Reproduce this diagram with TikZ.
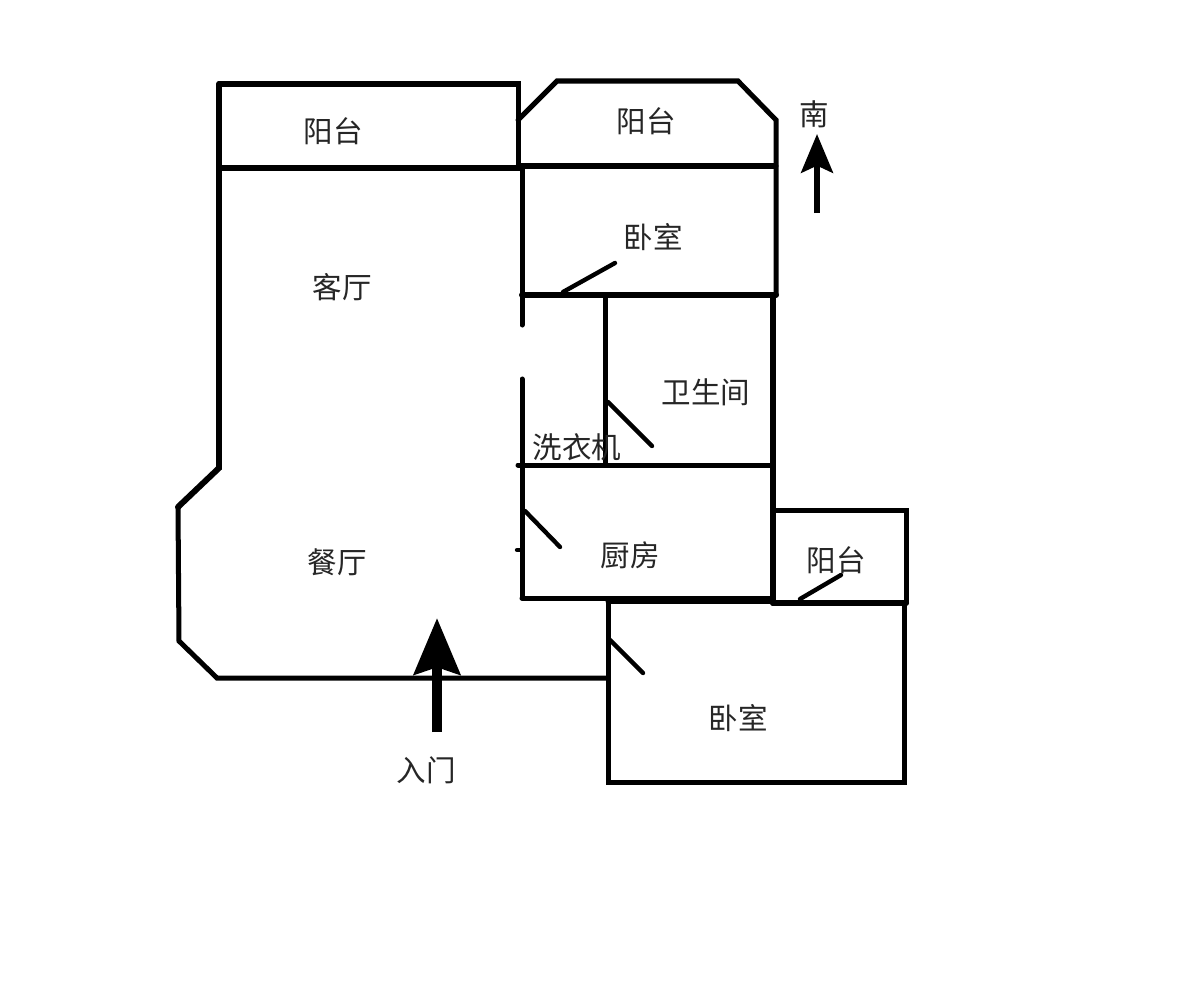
\documentclass[tikz,border=0pt]{standalone}
\usepackage{fontspec}
\newfontfamily\cjk{Noto Sans CJK SC}
\usetikzlibrary{arrows.meta}
\tikzset{
    wall/.style={line width=2.85pt,line cap=round,line join=miter},
    thickwall/.style={line width=3.4pt,line cap=round,line join=miter},
    door/.style={line width=2.5pt,line cap=round},
    room/.style={font=\cjk\fontsize{16.8}{17}\selectfont,text=black!85,inner sep=0pt},
    north/.style={line width=3.7pt,-{Stealth[length=22pt,width=18pt,inset=4pt]}},
    entry/.style={line width=6pt,-{Stealth[length=32pt,width=26pt,inset=4pt]}}
}

\begin{document}
\begin{tikzpicture}[x=0.02cm,y=-0.02cm]
    \useasboundingbox[fill=white] (0,0) rectangle (1182,1000);

    % outer walls, left side
    \draw[wall] (518,168) -- (518,84) -- (219,84);
    \draw[thickwall] (219,84) -- (219,468) -- (178,507);
    \draw[wall] (178,507) -- (179,641) -- (217,678) -- (607,678);
    \draw[wall] (219,168) -- (522,168);

    % south balcony
    \draw[wall] (518,120) -- (557,81) -- (738,81) -- (776,120) -- (776,295);
    \draw[wall] (518,166) -- (776,166);

    % middle wall, with the gap
    \draw[wall] (522,168) -- (522,325);
    \draw[wall] (522,379) -- (522,598);
    \draw[door] (517,550) -- (522,550);

    % bedroom, bath, kitchen
    \draw[thickwall] (522,295) -- (776,295);
    \draw[wall] (605,295) -- (605,465);
    \draw[thickwall] (773,295) -- (773,603);
    \draw[wall] (518,465) -- (773,465);
    \draw[wall] (522,598) -- (773,598);

    % east balcony and lower bedroom
    \draw[wall] (775,510) -- (906,510) -- (906,603);
    \draw[thickwall] (773,603) -- (906,603);
    \draw[wall] (608,601) -- (608,782) -- (904,782) -- (904,603);
    \draw[wall] (608,601) -- (773,601);

    % doors
    \draw[door] (563,292) -- (615,263);
    \draw[door] (608,402) -- (652,446);
    \draw[door] (525,511) -- (560,547);
    \draw[door] (800,599) -- (841,575);
    \draw[door] (610,640) -- (643,673);

    % arrows
    \coordinate (southtail) at (817,213);
    \coordinate (southtip)  at (817,134);
    \coordinate (entrytail) at (437,732);
    \coordinate (entrytip)  at (437,618);
    \draw[north] (southtail) -- (southtip);
    \draw[entry] (entrytail) -- (entrytip);

    % room names
    \node[room] (balconya) at (333,131) {\cjk 阳台};
    \node[room] (balconyb) at (646,121) {\cjk 阳台};
    \node[room] (balconyc) at (836,560) {\cjk 阳台};
    \node[room] (south)    at (814,114) {\cjk 南};
    \node[room] (bedrooma) at (653,237) {\cjk 卧室};
    \node[room] (bedroomb) at (738,718) {\cjk 卧室};
    \node[room] (living)   at (342,287) {\cjk 客厅};
    \node[room] (dining)   at (337,562) {\cjk 餐厅};
    \node[room] (bath)     at (706,392) {\cjk 卫生间};
    \node[room] (washer)   at (577,447) {\cjk 洗衣机};
    \node[room] (kitchen)  at (630,555) {\cjk 厨房};
    \node[room] (entrance) at (426,770) {\cjk 入门};
\end{tikzpicture}
\end{document}
